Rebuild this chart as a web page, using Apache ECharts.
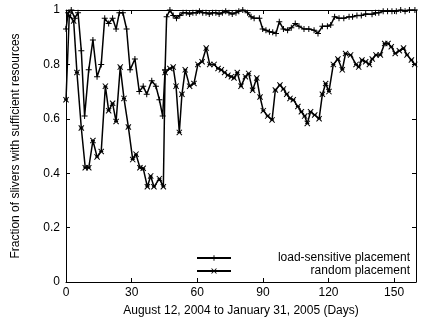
<!DOCTYPE html>
<html>
<head>
<meta charset="utf-8">
<script src="https://cdn.jsdelivr.net/npm/echarts@6/dist/echarts.min.js"></script>
<style>
html,body{margin:0;padding:0;background:#fff;}
#chart{width:424px;height:324px;}
</style>
</head>
<body>
<div id="chart"></div>
<script>
var xTicks = [0, 30, 60, 90, 120, 150];
var yTicks = [0, 0.2, 0.4, 0.6, 0.8, 1];
var seriesNames = ['load-sensitive placement', 'random placement'];

var loadDays = [0,1,2.4,4,5.5,7,8.5,10.4,12.3,14.2,16.1,17.7,19.5,21.3,22.9,24.4,26,27.7,29.3,31.5,33.5,35.3,36.9,39.2,41.1,42.7,44.2,45.3,46,47.5,49,50.5,52,53.5,55,56.5,58,59.5,61,62.5,64,65.5,67,68.5,70,71.5,73,74.5,76,77.7,79,80.8,83,84.6,86,88.4,89.9,91.4,93,94.5,96,97.5,99.4,101.3,103,104.8,106.5,108.8,111,113.4,115.2,117.2,119.5,121,122.8,124.8,127,129.4,131,133,135,137,139.9,141.5,143,145,147,149,151,153,155,157,159.5];
var loadValues = [0.93,0.99,1.0,0.97,0.99,0.85,0.61,0.78,0.89,0.755,0.80,0.97,0.95,0.97,0.93,0.99,0.99,0.93,0.78,0.82,0.70,0.72,0.69,0.74,0.72,0.67,0.61,0.78,0.975,1.0,0.98,0.97,0.98,0.99,0.99,0.985,0.99,0.99,0.995,0.99,0.99,0.985,0.99,0.99,0.985,0.99,0.995,0.99,0.985,0.99,0.995,1.0,0.99,0.975,0.97,0.97,0.93,0.926,0.92,0.918,0.914,0.957,0.93,0.926,0.935,0.95,0.94,0.93,0.93,0.926,0.914,0.94,0.94,0.945,0.975,0.97,0.97,0.975,0.975,0.98,0.98,0.985,0.984,0.99,0.99,0.995,0.995,0.995,0.995,1.0,0.995,1.0,1.0];

var randDays = [0,1.5,3.5,5,7,8.8,10.4,12.3,14.2,16.1,18,19.5,21.3,22.9,24.8,26.5,28.5,30.5,32,33.8,35.3,37.2,38.7,40.2,42.7,44.5,45.3,47.5,49,50.3,51.8,53,54.5,56.5,58.5,60.3,62.2,64.1,65.7,67.7,69.5,71,72.5,74,75.6,76.8,78.3,80,82,83.5,85.3,87.2,88.7,90.2,92.2,94.2,95.7,97.8,99.4,100.9,102.4,103.9,106,107.6,109.1,110.3,111.8,113.7,115.7,117.2,118.7,120.2,122.2,124.3,126.3,127.8,130.1,132.6,133.8,135.3,137,138.7,140,141.7,143.7,145.7,147.2,148.7,150.5,152.4,154.3,155.9,157.9,159.4];
var randValues = [0.67,0.98,0.96,0.77,0.566,0.42,0.42,0.52,0.46,0.48,0.72,0.63,0.657,0.59,0.79,0.675,0.57,0.45,0.47,0.42,0.418,0.35,0.39,0.35,0.38,0.35,0.77,0.785,0.79,0.72,0.55,0.69,0.78,0.72,0.73,0.80,0.81,0.86,0.80,0.80,0.785,0.78,0.77,0.76,0.755,0.75,0.77,0.72,0.755,0.767,0.705,0.75,0.68,0.63,0.61,0.596,0.706,0.724,0.71,0.69,0.675,0.67,0.645,0.626,0.61,0.583,0.626,0.614,0.60,0.69,0.73,0.70,0.80,0.82,0.78,0.84,0.835,0.80,0.79,0.816,0.81,0.80,0.82,0.835,0.835,0.877,0.877,0.865,0.84,0.85,0.86,0.835,0.816,0.80];

function pairs(xs, ys){ return xs.map(function(x,i){ return [x, ys[i]]; }); }

var plusPath = 'path://M-0.5,-3L0.5,-3L0.5,-0.5L3,-0.5L3,0.5L0.5,0.5L0.5,3L-0.5,3L-0.5,0.5L-3,0.5L-3,-0.5L-0.5,-0.5Z';
var xPath = 'path://M-3,-2.3L-2.3,-3L3,2.3L2.3,3ZM2.3,-3L3,-2.3L-2.3,3L-3,2.3ZM-2,-0.5L2,-0.5L2,0.5L-2,0.5Z';

var font = 'Liberation Sans, Arial, sans-serif';
var chart = echarts.init(document.getElementById('chart'));

function axisCommon(){
  return {
    axisLine:{show:true, onZero:false, lineStyle:{color:'#000', width:1}},
    axisTick:{show:true, inside:true, length:4, lineStyle:{color:'#000', width:1}},
    splitLine:{show:false}
  };
}

var xa0 = Object.assign(axisCommon(), {
  type:'value', position:'bottom', min:0, max:160, interval:30,
  name:'August 12, 2004 to January 31, 2005 (Days)', nameLocation:'middle', nameGap:23,
  nameTextStyle:{color:'#000', fontSize:12, fontFamily:font},
  axisLabel:{color:'#000', fontSize:12, fontFamily:font, margin:5, showMaxLabel:false}
});
var xa1 = Object.assign(axisCommon(), {
  type:'value', position:'top', min:0, max:160, interval:30,
  axisLabel:{show:false}
});
var ya0 = Object.assign(axisCommon(), {
  type:'value', position:'left', min:0, max:1, interval:0.2,
  name:'Fraction of slivers with sufficient resources', nameLocation:'middle', nameGap:44,
  nameTextStyle:{color:'#000', fontSize:12, fontFamily:font},
  axisLabel:{color:'#000', fontSize:12, fontFamily:font, margin:6}
});
var ya1 = Object.assign(axisCommon(), {
  type:'value', position:'right', min:0, max:1, interval:0.2,
  axisLabel:{show:false}
});

chart.setOption({
  animation:false,
  backgroundColor:'#fff',
  textStyle:{fontFamily:font},
  grid:{left:66, right:8, top:10, bottom:42, containLabel:false},
  xAxis:[xa0, xa1],
  yAxis:[ya0, ya1],
  legend:{
    orient:'vertical', left:191, top:247, itemGap:1, itemWidth:34, itemHeight:7,
    data:seriesNames,
    formatter:function(n){ return '{t|' + n + '}'; },
    textStyle:{color:'#000', fontSize:12, fontFamily:font,
      rich:{t:{width:174, align:'right', fontSize:12, fontFamily:font, color:'#000'}}}
  },
  series:[
    {
      name:seriesNames[0], type:'line', xAxisIndex:0, yAxisIndex:0,
      data:pairs(loadDays, loadValues),
      symbol:plusPath, symbolSize:6, showAllSymbol:true,
      lineStyle:{color:'#000', width:1.5},
      itemStyle:{color:'#000', borderWidth:0}
    },
    {
      name:seriesNames[1], type:'line', xAxisIndex:0, yAxisIndex:0,
      data:pairs(randDays, randValues),
      symbol:xPath, symbolSize:6, showAllSymbol:true,
      lineStyle:{color:'#000', width:1.5},
      itemStyle:{color:'#000', borderWidth:0}
    }
  ]
});
</script>
</body>
</html>
